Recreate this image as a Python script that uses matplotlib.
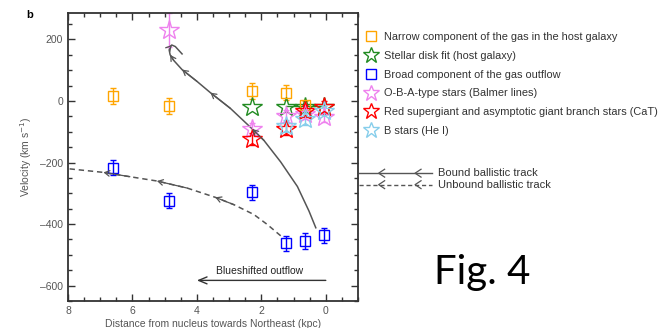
import numpy as np
import matplotlib.pyplot as plt
from matplotlib.lines import Line2D

plt.rcParams["font.family"] = ["Liberation Sans", "DejaVu Sans"]

# narrow component of the gas in the host galaxy
narrow_x = [6.6, 4.88, 2.3, 1.22, 0.65]
narrow_v = [16, -16, 32, 27, -14]
narrow_err = [25, 25, 25, 25, 15]

# broad component of the gas outflow
broad_x = [6.6, 4.88, 2.3, 1.22, 0.65, 0.07]
broad_v = [-217, -324, -297, -463, -455, -437]
broad_err = [25, 25, 25, 25, 25, 25]

# stellar disk fit (host galaxy)
disk_x = [2.3, 1.22, 0.65, 0.05]
disk_v = [-18, -18, -20, -20]

# O-B-A-type stars (Balmer lines)
oba_x = [4.88, 2.3, 1.22, 0.65, 0.05]
oba_v = [232, -92, -48, -42, -53]
oba_err = [55, 20, 20, 15, 15]

# red supergiant / AGB stars (CaT)
cat_x = [2.3, 1.22, 0.65, 0.05]
cat_v = [-123, -90, -32, -21]
cat_err = [20, 20, 20, 20]

# B stars (He I)
hei_x = [1.22, 0.65, 0.05]
hei_v = [-82, -59, -32]
hei_err = [20, 20, 15]

# ballistic tracks
bound_x = [0.31, 0.52, 0.88, 1.40, 1.92, 2.28, 2.96, 3.58, 4.0, 4.46, 4.72, 4.83, 4.86, 4.83, 4.78, 4.67, 4.46]
bound_v = [-412, -358, -278, -198, -128, -91, -24, 27, 64, 102, 132, 150, 166, 176, 182, 177, 153]
unbound_x = [1.4, 1.82, 2.23, 2.85, 3.43, 4.3, 5.24, 6.08, 6.9, 8.0, 8.9]
unbound_v = [-438, -401, -369, -337, -313, -283, -260, -246, -232, -220, -224]

fig = plt.figure(figsize=(6.62, 3.28), dpi=100)
ax = fig.add_axes([0.1027, 0.0823, 0.4381, 0.879])

grey = "#555555"
ax.plot(bound_x, bound_v, color=grey, lw=1.1, zorder=1)
ax.plot(unbound_x, unbound_v, color=grey, lw=1.1, ls=(0, (3.5, 2.5)), zorder=1)


def chevron(xs, vs, i, ax):
    # small open arrowhead pointing along the track
    ax.annotate("", xy=(xs[i], vs[i]), xytext=(xs[i - 1], vs[i - 1]),
                arrowprops=dict(arrowstyle="->,head_length=0.35,head_width=0.2",
                                color=grey, lw=0.9, shrinkA=0, shrinkB=0))


for i in [5, 7, 9, 11, 14]:
    chevron(bound_x, bound_v, i, ax)
for i in [4, 6, 8]:
    chevron(unbound_x, unbound_v, i, ax)

star_ms = 15
kw_sq = dict(fmt="s", ms=7, mfc="none", mew=1.0, elinewidth=1.0, capsize=2.5, capthick=1.0)
kw_st = dict(fmt="*", ms=star_ms, mfc="none", mew=1.0, elinewidth=1.0, capsize=2, capthick=1.0)

ax.errorbar(narrow_x, narrow_v, yerr=narrow_err, color="orange", **kw_sq)
ax.errorbar(broad_x, broad_v, yerr=broad_err, color="blue", **kw_sq)
ax.plot(disk_x, disk_v, "*", ms=star_ms, mfc="none", mew=1.0, color="forestgreen")
ax.plot([0.05, 1.22], [-15, -15], color="forestgreen", lw=1.0)
ax.errorbar(oba_x, oba_v, yerr=oba_err, color="violet", **kw_st)
ax.errorbar(cat_x, cat_v, yerr=cat_err, color="red", **kw_st)
ax.errorbar(hei_x, hei_v, yerr=hei_err, color="skyblue", **kw_st)

# blueshifted outflow arrow
ax.annotate("", xy=(4.0, -583), xytext=(0.0, -583),
            arrowprops=dict(arrowstyle="->,head_length=0.6,head_width=0.25",
                        color="#333333", lw=1.0, shrinkA=0, shrinkB=0))
ax.text(2.06, -553, "Blueshifted outflow", ha="center", va="center", fontsize=7.5, color="#222222")

ax.set_xlim(8, -1)
ax.set_ylim(-650, 287)
ax.set_xticks([8, 6, 4, 2, 0])
ax.set_xticks(np.arange(-1, 8.01, 0.5), minor=True)
ax.set_yticks([200, 0, -200, -400, -600])
ax.set_yticklabels(["200", "0", "\u2013200", "\u2013400", "\u2013600"])
ax.set_yticks(np.arange(-650, 287, 50), minor=True)
ax.tick_params(which="both", direction="in", top=True, right=True, colors="#333333",
               labelcolor="#555555", labelsize=7.5, width=1.0)
ax.tick_params(which="major", length=5)
ax.tick_params(which="minor", length=3)
for s in ax.spines.values():
    s.set_color("#333333")
    s.set_linewidth(1.3)

ax.set_xlabel("Distance from nucleus towards Northeast (kpc)", fontsize=7.5, color="#555555", labelpad=2)
ax.set_ylabel("Velocity (km s$^{-1}$)", fontsize=7.5, color="#555555", labelpad=4)
fig.text(0.045, 0.955, "b", fontsize=8, fontweight="bold", ha="center", va="center")

handles = [
    Line2D([], [], ls="none", marker="s", ms=7, mfc="none", mew=1.0, color="orange"),
    Line2D([], [], ls="none", marker="*", ms=12, mfc="none", mew=1.0, color="forestgreen"),
    Line2D([], [], ls="none", marker="s", ms=7, mfc="none", mew=1.0, color="blue"),
    Line2D([], [], ls="none", marker="*", ms=12, mfc="none", mew=1.0, color="violet"),
    Line2D([], [], ls="none", marker="*", ms=12, mfc="none", mew=1.0, color="red"),
    Line2D([], [], ls="none", marker="*", ms=12, mfc="none", mew=1.0, color="skyblue"),
]
labels = [
    "Narrow component of the gas in the host galaxy",
    "Stellar disk fit (host galaxy)",
    "Broad component of the gas outflow",
    "O-B-A-type stars (Balmer lines)",
    "Red supergiant and asymptotic giant branch stars (CaT)",
    "B stars (He I)",
]
leg = fig.legend(handles, labels, loc="upper left", bbox_to_anchor=(0.552, 0.902),
                 frameon=False, fontsize=7.9, handlelength=1.0, handletextpad=0.7,
                 labelspacing=0.8, borderaxespad=0, borderpad=0)
for t in leg.get_texts():
    t.set_color("#333333")

# ballistic track key
for yy, ls, lab in [(0.472, "-", "Bound ballistic track"), (0.437, (0, (3, 2)), "Unbound ballistic track")]:
    fig.add_artist(Line2D([0.542, 0.653], [yy, yy], color=grey, lw=1.0, ls=ls))
    for xx in [0.572, 0.627]:
        fig.add_artist(Line2D([xx + 0.009, xx, xx + 0.009], [yy + 0.012, yy, yy - 0.012],
                              color=grey, lw=0.9))
    fig.text(0.662, yy, lab, fontsize=8, color="#333333", va="center")

fig.text(0.655, 0.17, "Fig. 4", fontsize=29, family=["Lato", "DejaVu Sans"], va="center")

fig.savefig("out.png", dpi=100)
